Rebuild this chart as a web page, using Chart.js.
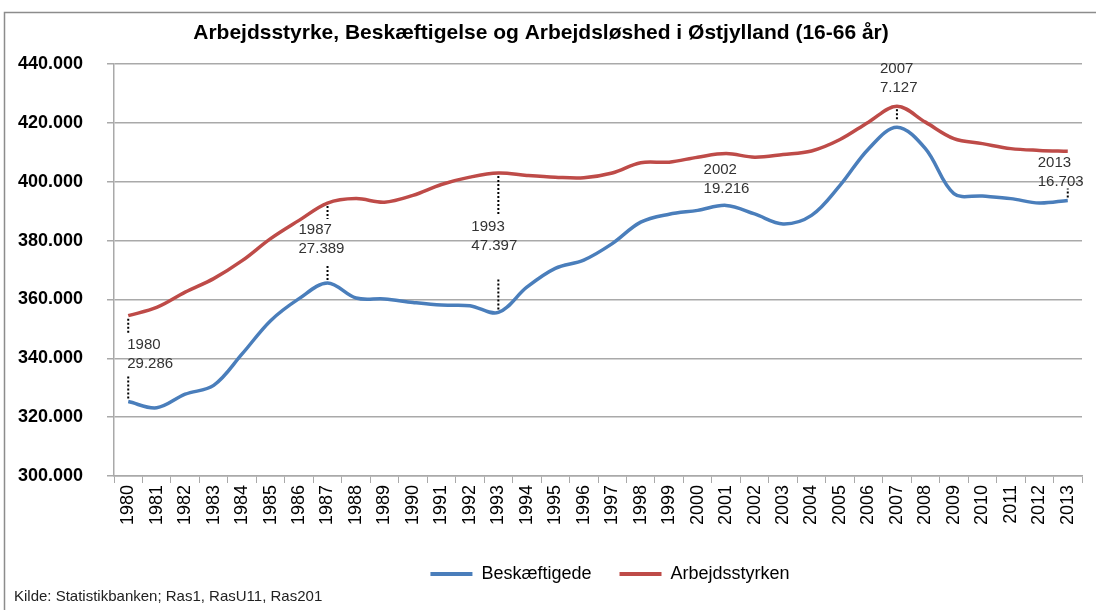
<!DOCTYPE html>
<html>
<head>
<meta charset="utf-8">
<title>Arbejdsstyrke, Beskæftigelse og Arbejdsløshed i Østjylland</title>
<script src="https://cdn.jsdelivr.net/npm/chart.js@4.4.1/dist/chart.umd.min.js"></script>
<style>
    html, body { margin: 0; padding: 0; background: #fff; }
    #wrap { width: 1096px; height: 610px; position: relative; }
</style>
</head>
<body>
<div id="wrap"><canvas id="chart" width="1096" height="610"></canvas></div>
<script>
    'use strict';

    var years = ['1980', '1981', '1982', '1983', '1984', '1985', '1986', '1987', '1988', '1989',
        '1990', '1991', '1992', '1993', '1994', '1995', '1996', '1997', '1998', '1999',
        '2000', '2001', '2002', '2003', '2004', '2005', '2006', '2007', '2008', '2009',
        '2010', '2011', '2012', '2013'];

    var beskaeftigede = [325300, 323200, 327800, 330800, 341500, 352800, 360300, 365600, 360500, 360200,
        359000, 358100, 357900, 355600, 364200, 370600, 373400, 379000, 386300, 389000,
        390300, 392000, 389100, 385700, 388600, 398800, 411200, 418600, 411300, 396000,
        395200, 394300, 392800, 393700];

    var arbejdsstyrken = [354500, 357300, 362500, 367100, 373200, 380700, 386900, 392800, 394300, 393100,
        395400, 399100, 401600, 403000, 402200, 401600, 401400, 403000, 406500, 406700,
        408400, 409600, 408400, 409300, 410500, 414400, 420300, 425700, 420300, 414700,
        413000, 411300, 410700, 410400];

    // ledige i udvalgte år (etiketter)
    var noteYears = ['1980', '1987', '1993', '2002', '2007', '2013'];
    var noteLedige = ['29.286', '27.389', '47.397', '19.216', '7.127', '16.703'];

    // placering af etiketterne i forhold til Arbejdsstyrken-punktet
    var notePlacement = {
        '1980': { dx: -1, dy: 29, redDots: 16, blueDots: 24 },
        '1987': { dx: -29, dy: 27, redDots: 13, blueDots: 16 },
        '1993': { dx: -27, dy: 54, redDots: 40, blueDots: 31 },
        '2002': { dx: -51, dy: 13, redDots: 0, blueDots: 0 },
        '2007': { dx: -17, dy: -37, redDots: 12, blueDots: 0 },
        '2013': { dx: -30, dy: 12, redDots: 0, blueDots: 9 }
    };

    var BLUE = '#4a7ebb';
    var RED = '#be4b48';
    var GRID = '#a9a9a9';
    var FONT = '"Liberation Sans", Arial, sans-serif';

    function formatThousands(v) {
        return String(v).replace(/\B(?=(\d{3})+(?!\d))/g, '.');
    }

    var notesPlugin = {
        id: 'notes',
        afterDatasetsDraw: function(chart) {
            var ctx = chart.ctx;
            var xs = chart.scales.x;
            var ys = chart.scales.y;
            ctx.save();
            noteYears.forEach(function(year, i) {
                var idx = years.indexOf(year);
                var p = notePlacement[year];
                var x = xs.getPixelForValue(idx);
                var yr = ys.getPixelForValue(arbejdsstyrken[idx]);
                var yb = ys.getPixelForValue(beskaeftigede[idx]);

                ctx.strokeStyle = '#000';
                ctx.lineWidth = 2;
                ctx.setLineDash([2, 2]);
                ctx.beginPath();
                if (p.redDots) {
                    ctx.moveTo(x, yr + 3);
                    ctx.lineTo(x, yr + 3 + p.redDots);
                }
                if (p.blueDots) {
                    ctx.moveTo(x, yb - 3);
                    ctx.lineTo(x, yb - 3 - p.blueDots);
                }
                ctx.stroke();

                ctx.setLineDash([]);
                ctx.fillStyle = '#333';
                ctx.font = '15px ' + FONT;
                ctx.textAlign = 'left';
                ctx.textBaseline = 'middle';
                ctx.fillText(year, x + p.dx, yr + p.dy);
                ctx.fillText(noteLedige[i], x + p.dx, yr + p.dy + 19);
            });
            ctx.restore();
        }
    };

    var framePlugin = {
        id: 'frame',
        afterLayout: function(chart) {
            // legenden står lidt til højre for midten
            if (chart.legend) {
                chart.legend.left += 69;
                chart.legend.right += 69;
            }
        },
        afterDraw: function(chart) {
            var ctx = chart.ctx;
            ctx.save();
            ctx.strokeStyle = '#8c8c8c';
            ctx.lineWidth = 1.5;
            ctx.strokeRect(4.5, 12.5, 1200, 700);

            ctx.fillStyle = '#222';
            ctx.font = '15px ' + FONT;
            ctx.textAlign = 'left';
            ctx.textBaseline = 'middle';
            ctx.fillText('Kilde: Statistikbanken; Ras1, RasU11, Ras201', 14, 597);
            ctx.restore();
        }
    };

    var ctx = document.getElementById('chart').getContext('2d');
    var chart = new Chart(ctx, {
        type: 'line',
        data: {
            labels: years,
            datasets: [
                {
                    label: 'Beskæftigede',
                    data: beskaeftigede,
                    borderColor: BLUE,
                    backgroundColor: BLUE,
                    borderWidth: 3.5,
                    pointRadius: 0,
                    tension: 0.35
                },
                {
                    label: 'Arbejdsstyrken',
                    data: arbejdsstyrken,
                    borderColor: RED,
                    backgroundColor: RED,
                    borderWidth: 3.5,
                    pointRadius: 0,
                    tension: 0.35
                }
            ]
        },
        options: {
            responsive: false,
            animation: false,
            layout: {
                padding: { top: 14, right: 14, bottom: 17, left: 0 }
            },
            plugins: {
                title: {
                    display: true,
                    text: 'Arbejdsstyrke, Beskæftigelse og Arbejdsløshed i Østjylland (16-66 år)',
                    color: '#000',
                    font: { family: FONT, size: 21, weight: 'bold', lineHeight: 1.2 },
                    padding: { top: 7, bottom: 18 }
                },
                legend: {
                    position: 'bottom',
                    labels: {
                        color: '#000',
                        font: { family: FONT, size: 18 },
                        boxWidth: 42,
                        boxHeight: 4,
                        padding: 28,
                        generateLabels: function(chart) {
                            var items = Chart.defaults.plugins.legend.labels.generateLabels(chart);
                            items.forEach(function(item) {
                                item.lineWidth = 0;
                                item.fillStyle = item.strokeStyle;
                            });
                            return items;
                        }
                    }
                },
                tooltip: { enabled: false }
            },
            scales: {
                x: {
                    offset: true,
                    grid: {
                        offset: true,
                        drawOnChartArea: false,
                        drawTicks: true,
                        tickLength: 7,
                        color: GRID
                    },
                    border: { color: GRID, width: 1.5 },
                    ticks: {
                        color: '#000',
                        font: { family: FONT, size: 18 },
                        minRotation: 90,
                        maxRotation: 90,
                        autoSkip: false,
                        padding: 2
                    },
                    afterFit: function(scale) {
                        scale.height = 61;
                    }
                },
                y: {
                    min: 300000,
                    max: 440000,
                    grid: {
                        color: GRID,
                        lineWidth: 1.5,
                        drawTicks: true,
                        tickLength: 7
                    },
                    border: { color: GRID, width: 1.5 },
                    ticks: {
                        stepSize: 20000,
                        color: '#000',
                        padding: 24,
                        font: { family: FONT, size: 18, weight: 'bold' },
                        callback: function(value) {
                            return formatThousands(value);
                        }
                    },
                    afterFit: function(scale) {
                        scale.width = 114;
                    }
                }
            }
        },
        plugins: [notesPlugin, framePlugin]
    });
</script>
</body>
</html>
